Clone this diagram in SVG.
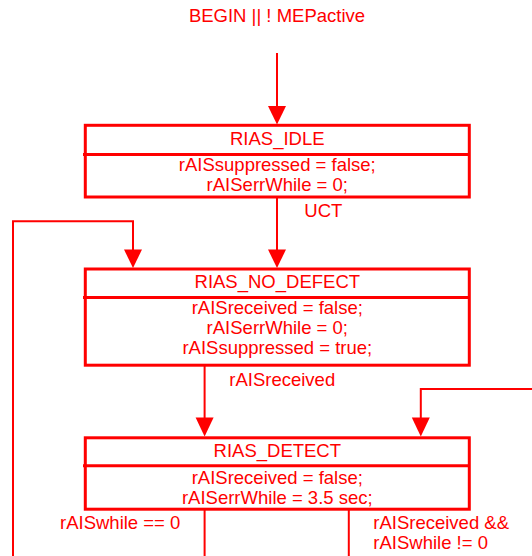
<svg xmlns="http://www.w3.org/2000/svg" width="532" height="556" viewBox="0 0 532 556">
<defs>
<style>
text{font-family:"Liberation Sans",Arial,sans-serif;font-size:18.5px;fill:#ff0000}
.c{text-anchor:middle}
.box{fill:none;stroke:#ff0000;stroke-width:3}
.ln{fill:none;stroke:#ff0000;stroke-width:2}
.ah{fill:#ff0000;stroke:none}
</style>
</defs>
<rect width="532" height="556" fill="#ffffff"/>
<g id="connectors">
<text x="277" y="22.4" class="c">BEGIN || ! MEPactive</text>
<path class="ln" d="M277,53 V107"/>
<polygon class="ah" points="268,106 286,106 277,124.5"/>
<path class="ln" d="M277,197 V251"/>
<polygon class="ah" points="268,249.5 286,249.5 277,268"/>
<text x="304.3" y="216.7">UCT</text>
<path class="ln" d="M13,556 V221.3 H133 V251"/>
<polygon class="ah" points="124,249.5 142,249.5 133,268"/>
<path class="ln" d="M204.6,365 V419"/>
<polygon class="ah" points="195.6,417.5 213.6,417.5 204.6,436.5"/>
<text x="229.3" y="386">rAISreceived</text>
<path class="ln" d="M532,389 H420.8 V419"/>
<polygon class="ah" points="411.8,417.5 429.8,417.5 420.8,436.5"/>
<path class="ln" d="M204.6,509 V556"/>
<path class="ln" d="M348.8,509 V556"/>
<text x="60" y="529">rAISwhile == 0</text>
<text x="373.3" y="529">rAISreceived &amp;&amp;</text>
<text x="373.3" y="549">rAISwhile != 0</text>
</g>
<g id="RIAS_IDLE">
<rect class="box" x="85.3" y="125.3" width="384" height="71.7"/>
<path class="box" d="M83,154.5 H469.3"/>
<text x="277.3" y="144.5" class="c">RIAS_IDLE</text>
<text x="277.3" y="171" class="c">rAISsuppressed = false;</text>
<text x="277.3" y="191" class="c">rAISerrWhile = 0;</text>
</g>
<g id="RIAS_NO_DEFECT">
<rect class="box" x="85.3" y="269" width="384" height="96.2"/>
<path class="box" d="M83,297.5 H469.3"/>
<text x="277.3" y="288.3" class="c">RIAS_NO_DEFECT</text>
<text x="277.3" y="313.5" class="c">rAISreceived = false;</text>
<text x="277.3" y="334" class="c">rAISerrWhile = 0;</text>
<text x="277.3" y="354" class="c">rAISsuppressed = true;</text>
</g>
<g id="RIAS_DETECT">
<rect class="box" x="85.3" y="437.8" width="384" height="71.4"/>
<path class="box" d="M83,465.8 H469.3"/>
<text x="277.3" y="456.7" class="c">RIAS_DETECT</text>
<text x="277.3" y="483.5" class="c">rAISreceived = false;</text>
<text x="277.3" y="504" class="c">rAISerrWhile = 3.5 sec;</text>
</g>
</svg>
